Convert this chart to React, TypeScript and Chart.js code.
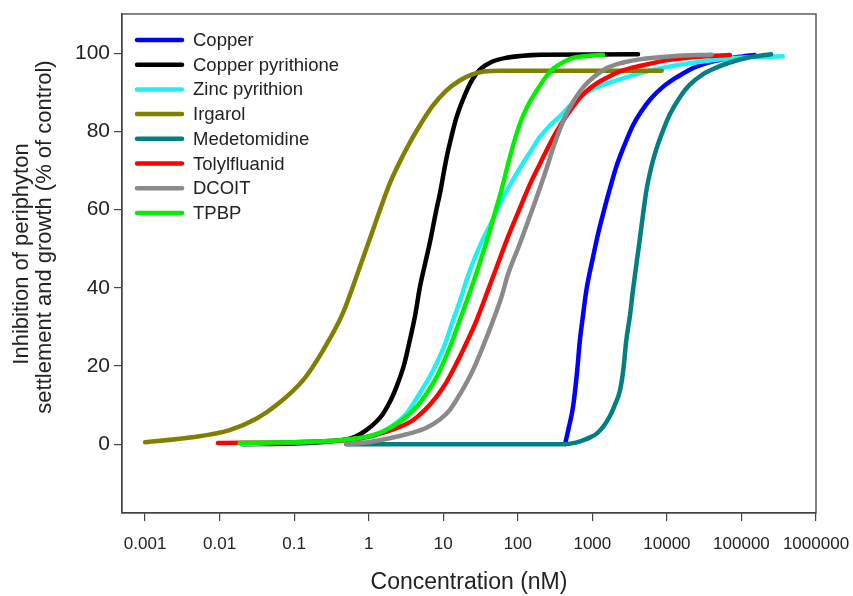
import React, { useEffect, useRef } from "react";
import { Chart, registerables } from "chart.js";

Chart.register(...registerables);

// ---- Data ----
const CONC_TICKS = [0.001, 0.01, 0.1, 1, 10, 100, 1000, 10000, 100000, 1000000];
const CONC_TICK_LABELS = ["0.001", "0.01", "0.1", "1", "10", "100", "1000", "10000", "100000", "1000000"];
const Y_TICKS = [0, 20, 40, 60, 80, 100];

const SERIES_NAMES = ["Copper", "Copper pyrithione", "Zinc pyrithion", "Irgarol", "Medetomidine", "Tolylfluanid", "DCOIT", "TPBP"];
const SERIES_COLORS = ["#0000ff", "#000000", "#1ff0f5", "#808000", "#008080", "#ff0000", "#8a8a8a", "#00f000"];

const copperX = [430, 480, 550, 620, 680, 750, 830, 1020, 1200, 1390, 1700, 2100, 2700, 3500, 4500, 6200, 9000, 12000, 16500, 22500, 35000, 57000, 100000, 150000];
const copperY = [0, 4, 9.5, 18, 26.5, 33, 39.3, 47.8, 54, 58.8, 65, 71, 76.5, 81.5, 85, 88.5, 91.5, 93.2, 94.8, 96.2, 97.5, 98.4, 99.1, 99.5];

const cuPyrX = [0.02, 0.1, 0.3, 0.6, 0.93, 1.3, 1.56, 2, 2.35, 3, 3.55, 4.2, 4.84, 5.6, 6.6, 8.1, 9, 11, 13, 15, 20.5, 25, 31, 45, 70, 200, 4100];
const cuPyrY = [0, 0.2, 0.7, 1.6, 3.6, 6, 7.8, 11.5, 14.6, 20.5, 26.5, 33, 40, 45.5, 51.5, 60, 64, 73, 79, 83.5, 90.3, 93.5, 95.8, 97.8, 98.8, 99.6, 99.7];

const znPyrX = [0.02, 0.3, 1.14, 2, 3.2, 4.8, 6.5, 8.1, 10.5, 13.5, 17, 21, 27, 34.2, 46.5, 57.5, 80, 106, 150, 197, 270, 366, 500, 680, 1000, 1560, 2500, 4300, 7000, 12000, 20000, 34000, 94000, 360000];
const znPyrY = [0, 0.8, 2, 4.5, 7.8, 12.9, 17, 20.6, 25.5, 31.6, 37, 42.5, 48, 52.5, 57.5, 61.5, 66.5, 70.5, 75, 78.5, 81.5, 83.8, 86.5, 88.8, 90.7, 92.2, 93.5, 94.8, 95.8, 96.7, 97.4, 98, 98.8, 99.2];

const irgarolX = [0.001, 0.004, 0.0136, 0.031, 0.058, 0.131, 0.244, 0.45, 0.75, 1.2, 1.9, 3.2, 4.84, 7.2, 10.8, 16.6, 24, 35, 60, 8500];
const irgarolY = [0.5, 1.7, 3.6, 6.5, 10, 16.3, 24, 33.5, 45, 56, 66.5, 75.5, 81.5, 86.5, 90.3, 93, 94.5, 95.3, 95.5, 95.5];

const medetX = [0.5, 400, 600, 750, 950, 1140, 1400, 1700, 2000, 2350, 2600, 2850, 3200, 3500, 4300, 5300, 6200, 7200, 9000, 11000, 15000, 20000, 30000, 46000, 70000, 120000, 250000];
const medetY = [0, 0, 0.4, 1, 1.8, 2.7, 4.5, 7, 10, 13.8, 19, 26.5, 33, 39.3, 52, 64.8, 71, 75.4, 80.5, 84.4, 88.8, 91.8, 94.5, 96.3, 97.6, 98.8, 99.7];

const tolylX = [0.0095, 0.1, 0.3, 0.8, 1.4, 2.5, 3.9, 5.5, 8.1, 11, 15, 20, 27.9, 35, 44.4, 55, 70.4, 90, 117, 150, 197, 298, 400, 500, 680, 1000, 1560, 2500, 4300, 12000, 30000, 70000];
const tolylY = [0.3, 0.5, 0.8, 1.6, 2.7, 4.3, 6.1, 8.5, 12.1, 15.8, 20.6, 25.5, 31.6, 36.5, 41.8, 46.5, 52, 57, 62.2, 67, 71.6, 78.4, 82.5, 85.2, 88.6, 91.5, 93.7, 95.5, 96.7, 98.4, 99.1, 99.5];

const dcoitX = [0.5, 1, 2.6, 4, 5.95, 9, 12.2, 17, 25, 35, 46.5, 60, 74, 106, 160, 243, 300, 366, 450, 550, 700, 925, 1250, 1560, 2600, 4300, 12000, 40000];
const dcoitY = [0, 0.5, 2.1, 3, 4.2, 6.3, 8.7, 13, 18.9, 25.5, 31.6, 37.5, 43.5, 51.2, 60.5, 70.5, 76, 80.5, 84.5, 87.5, 90.5, 93, 95, 96.2, 97.6, 98.4, 99.2, 99.6];

const tpbpX = [0.0185, 0.1, 0.3, 0.7, 1.14, 2, 3.2, 4.5, 5.95, 7.8, 9.9, 13, 16.6, 21, 26.5, 34.2, 40, 46.5, 60, 78, 106, 140, 178, 230, 298, 400, 550, 900, 1390];
const tpbpY = [0.3, 0.5, 0.8, 1.5, 2.3, 4.3, 7, 9.8, 12.9, 16.5, 20.6, 26, 31.6, 37, 42.5, 49, 53, 57.5, 64.8, 73.3, 81.8, 87, 90.3, 93.5, 96, 97.6, 98.8, 99.3, 99.5];

const SERIES_X = [copperX, cuPyrX, znPyrX, irgarolX, medetX, tolylX, dcoitX, tpbpX];
const SERIES_Y = [copperY, cuPyrY, znPyrY, irgarolY, medetY, tolylY, dcoitY, tpbpY];

const X_TITLE = "Concentration (nM)";
const Y_TITLE_LINES = ["Inhibition of periphyton", "settlement and growth (% of control)"];

const FONT = "'Liberation Sans', Arial, sans-serif";

export default function App() {
  const canvasRef = useRef<HTMLCanvasElement | null>(null);

  useEffect(() => {
    const canvas = canvasRef.current;
    if (!canvas) return;

    const decorPlugin = {
      id: "decor",
      afterDatasetsDraw(chart: any) {
        const { ctx, chartArea } = chart;
        ctx.save();
        ctx.strokeStyle = "#444";
        ctx.lineWidth = 1.3;
        ctx.strokeRect(chartArea.left, chartArea.top, chartArea.right - chartArea.left, chartArea.bottom - chartArea.top);
        ctx.restore();
      },
      afterDraw(chart: any) {
        const { ctx, chartArea } = chart;
        ctx.save();
        // legend
        ctx.font = `18.5px ${FONT}`;
        ctx.textBaseline = "middle";
        ctx.textAlign = "left";
        chart.data.datasets.forEach((ds: any, i: number) => {
          const y = chartArea.top + 26 + i * 24.7;
          ctx.strokeStyle = ds.borderColor;
          ctx.lineWidth = 4.5;
          ctx.lineCap = "round";
          ctx.beginPath();
          ctx.moveTo(chartArea.left + 15, y);
          ctx.lineTo(chartArea.left + 60, y);
          ctx.stroke();
          ctx.fillStyle = "#222";
          ctx.fillText(ds.label, chartArea.left + 71, y + 1);
        });
        // x title
        ctx.font = `23px ${FONT}`;
        ctx.textAlign = "center";
        ctx.fillStyle = "#222";
        ctx.fillText(X_TITLE, (chartArea.left + chartArea.right) / 2, 583);
        // y title
        ctx.font = `22px ${FONT}`;
        ctx.rotate(-Math.PI / 2);
        ctx.fillText(Y_TITLE_LINES[0], -254, 22);
        ctx.fillText(Y_TITLE_LINES[1], -237, 45);
        ctx.restore();
      },
    };

    const datasets = SERIES_NAMES.map((name, i) => ({
      label: name,
      data: SERIES_X[i].map((x, j) => ({ x, y: SERIES_Y[i][j] })),
      borderColor: SERIES_COLORS[i],
      backgroundColor: SERIES_COLORS[i],
      borderWidth: 4.5,
      pointRadius: 0,
      fill: false,
      cubicInterpolationMode: "monotone" as const,
      borderCapStyle: "round" as const,
      borderJoinStyle: "round" as const,
      order: SERIES_NAMES.length - i,
    }));

    const chart = new Chart(canvas, {
      type: "line",
      data: { datasets },
      options: {
        responsive: false,
        devicePixelRatio: 1,
        animation: false,
        layout: { padding: { top: 14, right: 37, bottom: 0, left: 0 } },
        plugins: { legend: { display: false }, tooltip: { enabled: false } },
        scales: {
          x: {
            type: "logarithmic",
            position: "bottom",
            min: 0.00049,
            max: 1000000,
            afterBuildTicks: (s: any) => {
              s.ticks = CONC_TICKS.map((v) => ({ value: v }));
            },
            afterFit: (s: any) => {
              s.height = 83;
              s.paddingLeft = 0;
              s.paddingRight = 0;
            },
            ticks: {
              autoSkip: false,
              maxRotation: 0,
              padding: 13,
              color: "#222",
              font: { family: FONT, size: 17 },
              callback: (v: any) => {
                const k = CONC_TICKS.findIndex((t) => Math.abs(Math.log10(t) - Math.log10(Number(v))) < 1e-6);
                return k >= 0 ? CONC_TICK_LABELS[k] : "";
              },
            },
            grid: { display: true, drawOnChartArea: false, drawTicks: true, tickLength: 8, color: "#444", lineWidth: 1.2 },
            border: { display: true, color: "#444", width: 1.3 },
          },
          y: {
            type: "linear",
            min: -17.6,
            max: 110,
            afterBuildTicks: (s: any) => {
              s.ticks = Y_TICKS.map((v) => ({ value: v }));
            },
            afterFit: (s: any) => {
              s.width = 122;
              s.paddingTop = 0;
              s.paddingBottom = 0;
            },
            ticks: {
              padding: 4,
              color: "#222",
              font: { family: FONT, size: 21 },
            },
            grid: { display: true, drawOnChartArea: false, drawTicks: true, tickLength: 8, color: "#444", lineWidth: 1.2 },
            border: { display: true, color: "#444", width: 1.3 },
          },
        },
      },
      plugins: [decorPlugin],
    });

    return () => chart.destroy();
  }, []);

  return (
    <div style={{ position: "absolute", left: 0, top: 0, width: 853, height: 596, background: "#fff" }}>
      <canvas ref={canvasRef} width={853} height={596} style={{ display: "block" }} />
    </div>
  );
}
